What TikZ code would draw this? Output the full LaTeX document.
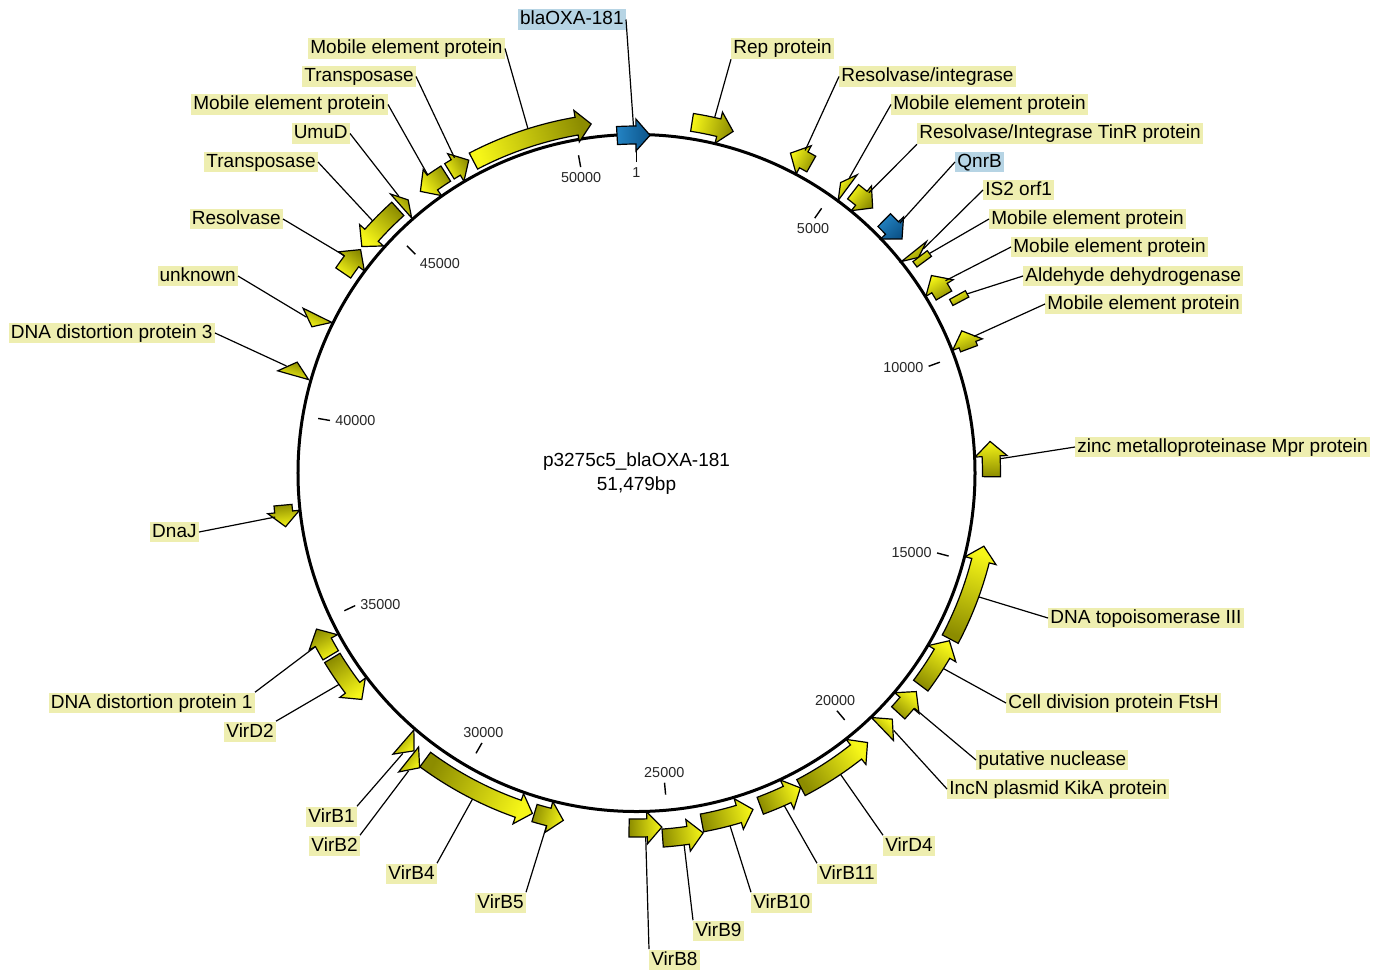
\documentclass[tikz,border=0pt]{standalone}
\usepackage{fontspec}
\setmainfont{Liberation Sans}
\definecolor{genehi}{RGB}{246,246,24}
\definecolor{genelo}{RGB}{140,140,0}
\definecolor{bluehi}{RGB}{36,132,196}
\definecolor{bluelo}{RGB}{12,84,138}
\definecolor{lblfill}{RGB}{238,238,176}
\definecolor{lblblue}{RGB}{182,212,228}

\tikzset{
  gene/.style={draw=black, line width=0.6pt, top color=genehi, bottom color=genelo},
  bluegene/.style={top color=bluehi, bottom color=bluelo},
  lbl/.style={fill=lblfill, inner xsep=1pt, inner ysep=0.4pt, text height=0.74em, text depth=0.22em, yshift=-1pt, font=\fontsize{9.5}{11}\selectfont},
  bluelbl/.style={lbl, fill=lblblue},
  leader/.style={line width=0.6pt},
  tick/.style={line width=0.7pt},
  ticklbl/.style={font=\fontsize{7.2}{8}\selectfont, inner sep=1pt, text=black!85}
}

% gene arrow: [style]{name}{tail angle}{tip angle}{track radius}
\newcommand{\gene}[5][]{%
  \pgfmathsetmacro\gT{#3}%
  \pgfmathsetmacro\gH{#4}%
  \pgfmathsetmacro\gM{((#3)+(#4))/2}%
  \pgfmathsetmacro\gL{abs((#4)-(#3))}%
  \pgfmathsetmacro\gB{(#4)>(#3) ? (#4)-2.4 : (#4)+2.4}%
  \pgfmathsetmacro\gSi{#5-9}\pgfmathsetmacro\gSo{#5+9}%
  \pgfmathsetmacro\gHi{#5-16}\pgfmathsetmacro\gHo{#5+16}%
  \ifdim\gL pt<2.6pt
    \path[gene,#1,shading angle=\gM] (\gT:\gHi) -- (\gH:#5) -- (\gT:\gHo) -- cycle;
  \else
    \path[gene,#1,shading angle=\gM] (\gT:\gSi)
      arc[start angle=\gT, end angle=\gB, radius=\gSi] -- (\gB:\gHi) -- (\gH:#5)
      -- (\gB:\gHo) -- (\gB:\gSo) arc[start angle=\gB, end angle=\gT, radius=\gSo] -- cycle;
  \fi
  \coordinate (#2) at (\gM:\gSo);
}
% short feature without head: {name}{from}{to}{track radius}
\newcommand{\genebox}[4]{%
  \pgfmathsetmacro\gM{((#2)+(#3))/2}%
  \pgfmathsetmacro\gSi{#4-9}\pgfmathsetmacro\gSo{#4+9}%
  \path[gene,shading angle=\gM] (#2:\gSi) arc[start angle=#2, end angle=#3, radius=\gSi]
    -- (#3:\gSo) arc[start angle=#3, end angle=#2, radius=\gSo] -- cycle;
  \coordinate (#1) at (\gM:\gSo);
}

\begin{document}
\begin{tikzpicture}[x=0.5pt,y=0.5pt]
\useasboundingbox (-636.5,473) rectangle (747.5,-498);

% backbone and scale (51479 bp, 1 kb = 6.993143 deg)
\draw[line width=1.5pt] (0,0) circle[radius=338.5];
\draw[tick] (90:311) -- (90:323);
\node[ticklbl,anchor=north] (t0) at (90:308) {1};
\foreach \k/\an in {5/north,10/east,15/east,20/south,25/south,30/south,35/west,40/west,45/north west,50/north}{
  \pgfmathsetmacro\a{90-\k*6.993143}
  \draw[tick] (\a:311) -- (\a:323);
  \node[ticklbl,anchor=\an] (t\k) at (\a:308) {\k000};
}
\node[font=\fontsize{9.5}{12}\selectfont, align=center] (title) at (0,-1) {p3275c5\_blaOXA-181\\51,479bp};

% features
\gene[bluegene]{oxa}{93.3}{87.7}{338}
\gene{rep}{81.0}{74.2}{355}
\gene{resint}{60.5}{64.3}{355}
\gene{mob1}{53.5}{54.9}{355}
\gene{tinr}{52.4}{48.3}{355}
\gene[bluegene]{qnrb}{45.6}{41.4}{354}
\gene{is2}{38.6}{37.4}{355}
\genebox{mob2}{37.4}{36.3}{357}
\gene{mob3}{30.0}{33.8}{355}
\genebox{aldh}{29.0}{27.9}{367}
\gene{mob4}{20.5}{23.6}{355}
\gene{zinc}{-0.6}{5.1}{355}
\gene{topo}{-27.9}{-11.9}{355}
\gene{ftsh}{-36.8}{-28.2}{355}
\gene{nuc}{-42.5}{-38.0}{355}
\gene{incn}{-46.15}{-43.9}{355}
\gene{vird4}{-62.4}{-49.4}{355}
\gene{virb11}{-69.6}{-62.5}{355}
\gene{virb10}{-79.4}{-70.9}{356}
\gene{virb9}{-85.9}{-79.5}{366}
\gene{virb8}{-91.2}{-85.9}{355}
\gene{virb5}{-106.7}{-101.9}{355}
\gene{virb4}{-126.4}{-107.0}{356}
\gene{virb2}{-128.5}{-126.35}{366}
\gene{virb1}{-130.9}{-128.7}{356}
\gene{vird2}{-148.7}{-140.5}{356}
\gene{ddp1}{-149.2}{-154.0}{356}
\gene{dnaj}{185.2}{188.7}{355}
\gene{ddp3}{164.1}{161.9}{357}
\gene{unk}{153.7}{155.75}{356}
\gene{res}{145.7}{141.0}{355}
\gene{tn2}{132.1}{140.5}{356}
\gene{umud}{131.4}{129.9}{356}
\gene{mob5}{122.5}{127.5}{355}
\gene{tn1}{121.8}{118.2}{355}
\gene{mob6}{117.6}{97.4}{352}

% labels (placed in image pixels)
\begin{scope}[shift={(-636.5,473)},yscale=-1]
  \node[bluelbl,anchor=east] (l-oxa) at (626,17.5) {blaOXA-181};
  \node[lbl,anchor=east] (l-mob6) at (505,46.5) {Mobile element protein};
  \node[lbl,anchor=east] (l-tn1) at (416,74.5) {Transposase};
  \node[lbl,anchor=east] (l-mob5) at (388,102.5) {Mobile element protein};
  \node[lbl,anchor=east] (l-umud) at (350,131.5) {UmuD};
  \node[lbl,anchor=east] (l-tn2) at (318,160) {Transposase};
  \node[lbl,anchor=east] (l-res) at (283,217) {Resolvase};
  \node[lbl,anchor=east] (l-unk) at (238,274) {unknown};
  \node[lbl,anchor=east] (l-ddp3) at (215,331) {DNA distortion protein 3};
  \node[lbl,anchor=east] (l-dnaj) at (199,530) {DnaJ};
  \node[lbl,anchor=east] (l-ddp1) at (255,701) {DNA distortion protein 1};
  \node[lbl,anchor=east] (l-vird2) at (276,730) {VirD2};
  \node[lbl,anchor=east] (l-virb1) at (357,815) {VirB1};
  \node[lbl,anchor=east] (l-virb2) at (360,844) {VirB2};
  \node[lbl,anchor=east] (l-virb4) at (437,872) {VirB4};
  \node[lbl,anchor=east] (l-virb5) at (526,901) {VirB5};
  \node[lbl,anchor=west] (l-virb8) at (649,958) {VirB8};
  \node[lbl,anchor=west] (l-virb9) at (693,929) {VirB9};
  \node[lbl,anchor=west] (l-virb10) at (751,901) {VirB10};
  \node[lbl,anchor=west] (l-virb11) at (817,872) {VirB11};
  \node[lbl,anchor=west] (l-vird4) at (883,844) {VirD4};
  \node[lbl,anchor=west] (l-incn) at (947,787) {IncN plasmid KikA protein};
  \node[lbl,anchor=west] (l-nuc) at (976,758) {putative nuclease};
  \node[lbl,anchor=west] (l-ftsh) at (1006,701) {Cell division protein FtsH};
  \node[lbl,anchor=west] (l-topo) at (1048,616) {DNA topoisomerase III};
  \node[lbl,anchor=west] (l-zinc) at (1075,445) {zinc metalloproteinase Mpr protein};
  \node[lbl,anchor=west] (l-mob4) at (1045,302) {Mobile element protein};
  \node[lbl,anchor=west] (l-aldh) at (1023,274) {Aldehyde dehydrogenase};
  \node[lbl,anchor=west] (l-mob3) at (1011,245) {Mobile element protein};
  \node[lbl,anchor=west] (l-mob2) at (989,217) {Mobile element protein};
  \node[lbl,anchor=west] (l-is2) at (983,188) {IS2 orf1};
  \node[bluelbl,anchor=west] (l-qnrb) at (955,160) {QnrB};
  \node[lbl,anchor=west] (l-tinr) at (917,131.5) {Resolvase/Integrase TinR protein};
  \node[lbl,anchor=west] (l-mob1) at (891,102.5) {Mobile element protein};
  \node[lbl,anchor=west] (l-resint) at (839,74.5) {Resolvase/integrase};
  \node[lbl,anchor=west] (l-rep) at (731,46.5) {Rep protein};
\end{scope}

% leaders
\draw[leader] (l-oxa.east) -- (oxa);
\draw[leader] (l-mob6.east) -- (mob6);
\draw[leader] (l-tn1.east) -- (tn1);
\draw[leader] (l-mob5.east) -- (mob5);
\draw[leader] (l-umud.east) -- (umud);
\draw[leader] (l-tn2.east) -- (tn2);
\draw[leader] (l-res.east) -- (res);
\draw[leader] (l-unk.east) -- (unk);
\draw[leader] (l-ddp3.east) -- (ddp3);
\draw[leader] (l-dnaj.east) -- (dnaj);
\draw[leader] (l-ddp1.north east) -- (ddp1);
\draw[leader] (l-vird2.north east) -- (vird2);
\draw[leader] (l-virb1.north east) -- (virb1);
\draw[leader] (l-virb2.north east) -- (virb2);
\draw[leader] (l-virb4.north east) -- (virb4);
\draw[leader] (l-virb5.north east) -- (virb5);
\draw[leader] (l-virb8.north west) -- (virb8);
\draw[leader] (l-virb9.north west) -- (virb9);
\draw[leader] (l-virb10.north west) -- (virb10);
\draw[leader] (l-virb11.north west) -- (virb11);
\draw[leader] (l-vird4.north west) -- (vird4);
\draw[leader] (l-incn.west) -- (incn);
\draw[leader] (l-nuc.west) -- (nuc);
\draw[leader] (l-ftsh.west) -- (ftsh);
\draw[leader] (l-topo.west) -- (topo);
\draw[leader] (l-zinc.west) -- (zinc);
\draw[leader] (l-mob4.west) -- (mob4);
\draw[leader] (l-aldh.west) -- (aldh);
\draw[leader] (l-mob3.west) -- (mob3);
\draw[leader] (l-mob2.west) -- (mob2);
\draw[leader] (l-is2.west) -- (is2);
\draw[leader] (l-qnrb.west) -- (qnrb);
\draw[leader] (l-tinr.south west) -- (tinr);
\draw[leader] (l-mob1.west) -- (mob1);
\draw[leader] (l-resint.west) -- (resint);
\draw[leader] (l-rep.south west) -- (rep);
\end{tikzpicture}
\end{document}
